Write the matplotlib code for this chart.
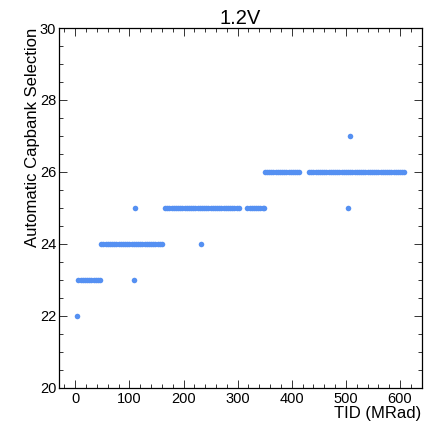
import matplotlib
matplotlib.use("Agg")
import matplotlib.pyplot as plt
from matplotlib.ticker import MultipleLocator

# TID (MRad) values at which each automatic capbank selection was observed
tid_cap22 = [3]
tid_cap23 = [6, 10, 14, 18, 22, 26, 30, 34, 38, 42, 45, 108]
tid_cap24 = [48, 52, 56, 60, 64, 68, 72, 76, 80, 84, 88, 92, 96, 100, 104,
             108, 112, 116, 120, 124, 128, 132, 136, 140, 144, 148, 152, 156,
             160, 232]
tid_cap25 = [110, 166, 170, 174, 178, 182, 186, 190, 194, 198, 202, 206, 210,
             214, 218, 222, 226, 230, 234, 238, 242, 246, 250, 254, 258, 262,
             266, 270, 274, 278, 282, 286, 290, 294, 298, 302,
             318, 322, 326, 330, 334, 338, 342, 346, 349, 504]
tid_cap26 = [350, 354, 358, 362, 366, 370, 374, 378, 382, 386, 390, 394, 398,
             402, 406, 410, 414,
             432, 436, 440, 444, 448, 452, 456, 460, 464, 468, 472, 476, 480,
             484, 488, 492, 496, 500, 504, 508, 512, 516, 520, 524, 528, 532,
             536, 540, 544, 548, 552, 556, 560, 564, 568, 572, 576, 580, 584,
             588, 592, 596, 600, 604, 608]
tid_cap27 = [507]

series = [(22, tid_cap22), (23, tid_cap23), (24, tid_cap24),
          (25, tid_cap25), (26, tid_cap26), (27, tid_cap27)]

title = "1.2V"
xlabel = "TID (MRad)"
ylabel = "Automatic Capbank Selection"

plt.rcParams['font.family'] = ['Liberation Sans', 'DejaVu Sans']

fig = plt.figure(figsize=(4.33, 4.24), dpi=100)
ax = fig.add_axes([59/433, 1-387.5/424, (421.7-59)/433, (387.5-28)/424])

color = '#5590f2'
for cap, tids in series:
    ax.plot(tids, [cap]*len(tids), linestyle='none', marker='o',
            markersize=4.0, markeredgewidth=0, color=color)

ax.set_xlim(-30, 640)
ax.set_ylim(20, 30)
ax.xaxis.set_major_locator(MultipleLocator(100))
ax.xaxis.set_minor_locator(MultipleLocator(20))
ax.yaxis.set_major_locator(MultipleLocator(2))
ax.yaxis.set_minor_locator(MultipleLocator(0.5))
ax.tick_params(which='both', direction='in', top=True, right=True,
               width=0.7, labelsize=10.5, color='#333333')
ax.tick_params(which='major', length=5.5)
ax.tick_params(which='minor', length=2.8)
ax.tick_params(axis='x', pad=3)
ax.tick_params(axis='y', pad=2)
for s in ax.spines.values():
    s.set_linewidth(0.9)

ax.set_title(title, fontsize=14.5, pad=2)
ax.set_xlabel(xlabel, fontsize=12, loc='right', labelpad=0)
ax.set_ylabel(ylabel, fontsize=12, loc='top', labelpad=0)

fig.savefig("out.png", dpi=100)
